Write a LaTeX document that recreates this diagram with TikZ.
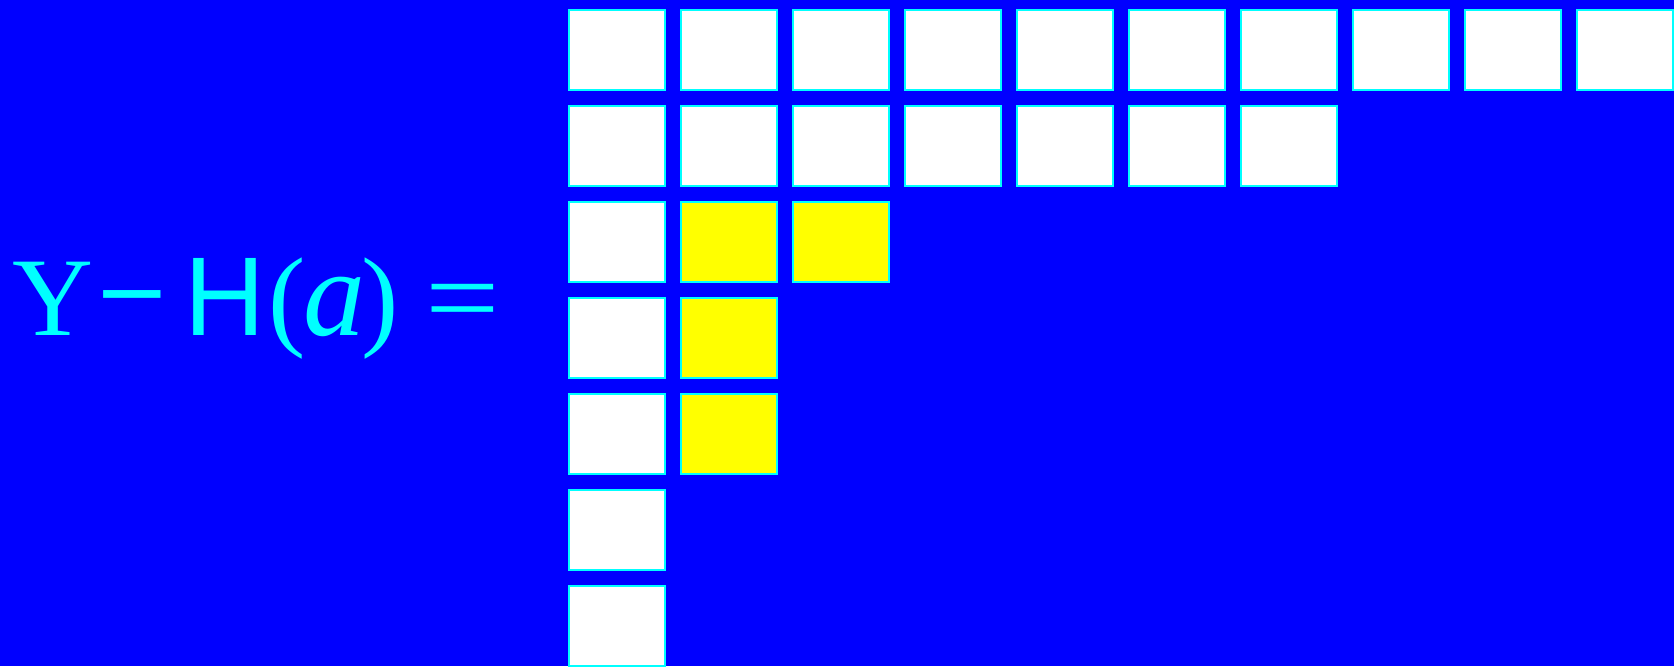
\documentclass[tikz,border=0pt]{standalone}
\usepackage{fontspec}
\usepackage{graphicx}
\setmainfont{Liberation Serif}
\setsansfont{Liberation Sans}
\usetikzlibrary{positioning}
\definecolor{bgblue}{RGB}{0,0,255}
\definecolor{edgecyan}{RGB}{0,255,255}
\definecolor{hook}{RGB}{255,255,0}
\tikzset{
  cell/.style={draw=edgecyan, fill=white, line width=1pt, minimum width=48pt,
    minimum height=40pt, inner sep=0pt},
  lhs/.style={text=edgecyan, font=\fontsize{56}{60}\selectfont, inner sep=0pt,
    anchor=base west}
}
\begin{document}
\begin{tikzpicture}[x=0.5pt, y=-0.5pt]
  \useasboundingbox (0,0) rectangle (1674,666);
  \fill[bgblue] (0,0) rectangle (1674,666);
  \node[lhs] (lhs) at (12,335) {Y\hspace{2pt}\raisebox{-5.6pt}{\scalebox{1.1}[1.4]{−}}\hspace{9pt}\textsf{H}\hspace{1.5pt}(\hspace{-1pt}{\fontsize{62}{66}\selectfont\textit{a}}\hspace{-2pt})\hspace{13pt}\scalebox{1.18}[1]{=}};
  % row lengths, and last yellow column of each row
  \foreach \len/\hk [count=\r from 0] in {10/0,7/0,3/3,2/2,2/2,1/0,1/0} {
    \foreach \c in {1,...,\len} {
      \ifnum\c>1 \ifnum\c>\hk \def\cellfill{white}\else \def\cellfill{hook}\fi
      \else \def\cellfill{white}\fi
      \node[cell, fill=\cellfill] (c-\r-\c) at ({617+112*(\c-1)}, {50+96*\r}) {};
    }
  }
\end{tikzpicture}
\end{document}
